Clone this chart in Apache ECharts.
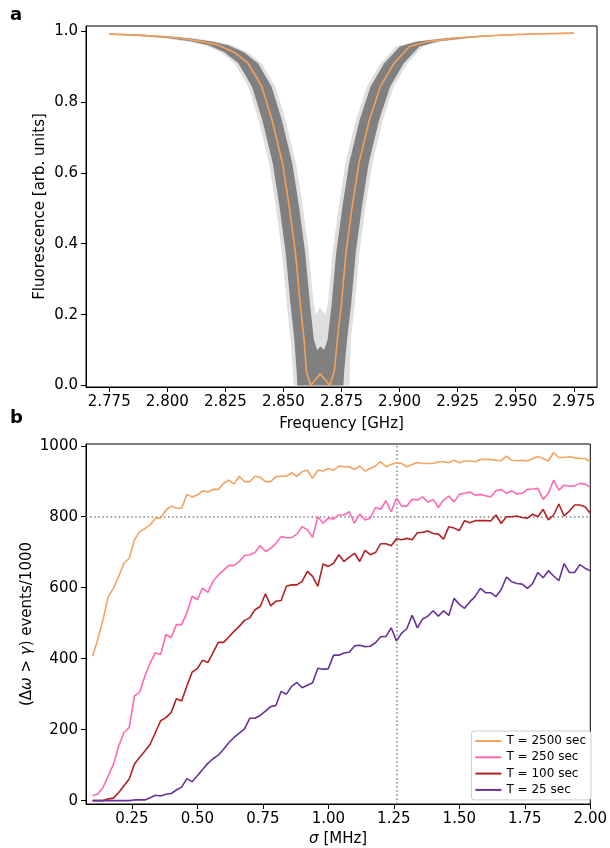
<!DOCTYPE html>
<html><head><meta charset="utf-8">
<script src="https://cdn.jsdelivr.net/npm/echarts@6/dist/echarts.min.js"></script>
<style>html,body{margin:0;padding:0;background:#fff}#c{width:610px;height:848px}</style>
</head><body><div id="c"></div>
<script>
// ---------- Panel a data ----------
const freqOrange = [2.775,2.785,2.795,2.805,2.815,2.822,2.8288,2.8348,2.8407,2.8451,2.8496,2.8525,2.8552,2.8572,2.8589,2.8599,2.8617,2.8658,2.8700,2.8720,2.8732,2.8750,2.8769,2.8796,2.8825,2.8870,2.8917,2.8976,2.9043,2.912,2.925,2.940,2.955,2.975];
const fluorOrange = [0.991,0.989,0.985,0.980,0.970,0.960,0.940,0.909,0.843,0.749,0.627,0.505,0.373,0.232,0.129,0.040,0.000,0.033,0.000,0.044,0.129,0.232,0.373,0.505,0.627,0.749,0.843,0.909,0.956,0.970,0.980,0.987,0.991,0.994];

// dense (dark) part of the bundle of simulated spectra
const bandOuterF = [2.775,2.790,2.800,2.810,2.8178,2.8246,2.8306,2.8365,2.8409,2.8454,2.8483,2.8510,2.8530,2.8547,2.8557,2.8560,2.8758,2.8762,2.8774,2.8792,2.8811,2.8838,2.8867,2.8912,2.8959,2.9018,2.9085,2.9162,2.9292,2.9442,2.9592,2.975];
const bandOuterV = [0.990,0.985,0.980,0.971,0.960,0.940,0.909,0.843,0.749,0.627,0.505,0.373,0.232,0.129,0.040,0.000,0.000,0.044,0.129,0.232,0.373,0.505,0.627,0.749,0.843,0.909,0.956,0.970,0.980,0.987,0.991,0.993];
const bandInnerF = [2.775,2.790,2.800,2.810,2.8192,2.8262,2.8330,2.8390,2.8449,2.8493,2.8538,2.8567,2.8594,2.8614,2.8631,2.8645,2.8660,2.8675,2.8690,2.8708,2.8727,2.8754,2.8783,2.8828,2.8875,2.8934,2.9001,2.9078,2.9208,2.9358,2.9508,2.975];
const bandInnerV = [0.992,0.989,0.985,0.979,0.970,0.960,0.940,0.909,0.843,0.749,0.627,0.505,0.373,0.232,0.129,0.100,0.110,0.100,0.129,0.232,0.373,0.505,0.627,0.749,0.843,0.909,0.956,0.970,0.980,0.987,0.991,0.995];

// faint outskirts of the bundle
const haloOuterF = [2.775,2.790,2.800,2.810,2.8162,2.8230,2.8290,2.8349,2.8393,2.8438,2.8467,2.8494,2.8514,2.8531,2.8541,2.8545,2.8785,2.8786,2.8790,2.8808,2.8827,2.8854,2.8883,2.8928,2.8975,2.9034,2.9101,2.9178,2.9308,2.9458,2.9608,2.975];
const haloOuterV = [0.989,0.984,0.978,0.969,0.960,0.940,0.909,0.843,0.749,0.627,0.505,0.373,0.232,0.129,0.040,0.000,0.000,0.044,0.129,0.232,0.373,0.505,0.627,0.749,0.843,0.909,0.956,0.970,0.980,0.987,0.991,0.992];
const haloInnerF = [2.775,2.790,2.800,2.810,2.8208,2.8278,2.8346,2.8406,2.8465,2.8509,2.8554,2.8583,2.8610,2.8630,2.8640,2.8655,2.8668,2.8680,2.8692,2.8711,2.8738,2.8767,2.8812,2.8859,2.8918,2.8985,2.9062,2.9192,2.9342,2.9492,2.975];
const haloInnerV = [0.994,0.990,0.986,0.981,0.970,0.960,0.940,0.909,0.843,0.749,0.627,0.505,0.373,0.232,0.200,0.220,0.210,0.200,0.232,0.373,0.505,0.627,0.749,0.843,0.909,0.956,0.970,0.980,0.987,0.991,0.996];

const topXTicks = [2.775,2.800,2.825,2.850,2.875,2.900,2.925,2.950,2.975];
const topYTicks = [0,0.2,0.4,0.6,0.8,1.0];

// ---------- Panel b data ----------
const sigma = [0.10,0.12,0.14,0.16,0.18,0.20,0.22,0.24,0.26,0.28,0.30,0.32,0.34,0.36,0.38,0.40,0.42,0.44,0.46,0.48,0.50,0.52,0.54,0.56,0.58,0.60,0.62,0.64,0.66,0.68,0.70,0.72,0.74,0.76,0.78,0.80,0.82,0.84,0.86,0.88,0.90,0.92,0.94,0.96,0.98,1.00,1.02,1.04,1.06,1.08,1.10,1.12,1.14,1.16,1.18,1.20,1.22,1.24,1.26,1.28,1.30,1.32,1.34,1.36,1.38,1.40,1.42,1.44,1.46,1.48,1.50,1.52,1.54,1.56,1.58,1.60,1.62,1.64,1.66,1.68,1.70,1.72,1.74,1.76,1.78,1.80,1.82,1.84,1.86,1.88,1.90,1.92,1.94,1.96,1.98,2.00];
const evT2500 = [407,454,510,575,599,632,669,683,735,758,767,777,796,796,819,830,824,824,863,856,861,873,870,877,877,894,903,892,914,899,899,914,911,899,899,913,914,914,924,914,927,931,908,931,929,936,931,943,941,941,933,943,929,936,943,955,941,947,952,950,941,947,953,950,950,950,955,955,952,959,952,957,957,955,961,962,961,959,958,971,959,958,959,957,964,969,964,957,981,967,967,969,966,964,964,955];
const evT250 = [14,19,37,70,103,154,192,206,295,306,351,388,417,412,468,459,496,496,529,576,566,599,587,618,636,649,663,663,674,691,693,699,719,702,711,725,744,741,741,751,772,763,742,800,782,796,794,805,805,814,782,808,791,796,826,821,845,814,852,830,830,849,847,856,841,849,826,847,858,842,863,866,870,861,863,859,856,873,877,866,873,864,866,877,878,880,849,866,903,875,889,886,887,894,892,883];
const evT100 = [0,0,0,5,7,23,42,61,103,122,140,159,192,225,234,248,287,281,323,362,372,396,389,417,446,446,461,477,491,508,515,538,547,583,549,562,564,604,608,608,618,646,632,604,667,660,669,693,674,686,697,674,705,693,699,724,724,718,738,735,739,735,755,756,760,753,751,737,772,768,761,789,783,789,789,789,788,805,781,800,800,802,798,796,807,800,821,791,805,836,802,816,833,833,828,810];
const evT25 = [0,0,0,0,0,0,0,0,2,2,2,8,15,13,18,20,30,38,62,53,70,88,105,118,128,145,163,178,190,202,232,232,240,252,265,268,308,300,322,333,318,325,332,373,370,372,410,410,416,418,436,438,434,435,445,462,463,487,450,472,485,522,487,512,520,535,520,535,522,570,553,542,560,575,598,586,586,575,595,630,617,612,610,598,612,643,628,648,633,620,668,643,643,665,655,648];
const seriesNames = ['T = 2500 sec','T = 250 sec','T = 100 sec','T = 25 sec'];
const seriesColors = ['#F4A460','#FF69B4','#B22222','#663399'];
const thresholdY = 800;
const markedSigma = 1.26;
const botXTicks = [0.25,0.50,0.75,1.00,1.25,1.50,1.75,2.00];
const botYTicks = [0,200,400,600,800,1000];

// ---------- build ----------
const FONT = 'DejaVu Sans';
const FS = 15;
const zip = (a, b) => a.map((v, i) => [v, b[i]]);

function axisBase(ticks, fmt) {
  return {
    type: 'value', scale: false,
    axisLine: {show: true, onZero: false, lineStyle: {color: '#000', width: 1}},
    axisTick: {show: true, inside: false, length: 5, customValues: ticks, lineStyle: {color: '#000', width: 1}},
    axisLabel: {show: true, color: '#000', fontFamily: FONT, fontSize: FS, margin: 8, customValues: ticks, formatter: fmt},
    splitLine: {show: false},
    nameTextStyle: {color: '#000', fontFamily: FONT, fontSize: FS}
  };
}

function polygonSeries(oF, oV, iF, iV, color, z) {
  return {
    type: 'custom', xAxisIndex: 0, yAxisIndex: 0, silent: true, z: z,
    data: [[oF[0], oV[0]]],
    renderItem: function (params, api) {
      const pts = [];
      for (let i = 0; i < oF.length; i++) pts.push(api.coord([oF[i], oV[i]]));
      for (let i = iF.length - 1; i >= 0; i--) pts.push(api.coord([iF[i], iV[i]]));
      return {type: 'polygon', shape: {points: pts}, style: {fill: color}};
    }
  };
}

const xTop = Object.assign(axisBase(topXTicks, v => v.toFixed(3)), {
  gridIndex: 0, min: 2.765, max: 2.985,
  name: 'Frequency [GHz]', nameLocation: 'middle', nameGap: 30
});
const yTop = Object.assign(axisBase(topYTicks, v => v.toFixed(1)), {
  gridIndex: 0, min: -0.004, max: 1.014,
  name: 'Fluorescence [arb. units]', nameLocation: 'middle', nameGap: 38, nameMoveOverlap: false
});
const xBot = Object.assign(axisBase(botXTicks, v => v.toFixed(2)), {
  gridIndex: 1, min: 0.075, max: 2.0,
  name: '{i|σ} [MHz]', nameLocation: 'middle', nameGap: 28
});
xBot.nameTextStyle.rich = {i: {fontStyle: 'italic', fontFamily: FONT, fontSize: FS, color: '#000'}};
const yBot = Object.assign(axisBase(botYTicks, v => String(v)), {
  gridIndex: 1, min: -9.5, max: 1005,
  name: '(Δ{i|ω} > {i|γ}) events/1000', nameLocation: 'middle', nameGap: 51, nameMoveOverlap: false
});
yBot.nameTextStyle.rich = {i: {fontStyle: 'italic', fontFamily: FONT, fontSize: FS, color: '#000'}};

const botData = [evT2500, evT250, evT100, evT25];
const botSeries = botData.map((arr, k) => {
  const s = {
    name: seriesNames[k], type: 'line', xAxisIndex: 1, yAxisIndex: 1,
    data: zip(sigma, arr), symbol: 'none', smooth: false, z: 3,
    lineStyle: {color: seriesColors[k], width: 1.6}, itemStyle: {color: seriesColors[k]}
  };
  if (k === 0) {
    s.markLine = {
      silent: true, symbol: 'none', label: {show: false}, z: 2,
      lineStyle: {color: '#808080', type: [1.5, 2.6], width: 1.5},
      data: [{yAxis: thresholdY}, {xAxis: markedSigma}]
    };
  }
  return s;
});

const option = {
  animation: false,
  backgroundColor: '#fff',
  textStyle: {fontFamily: FONT},
  grid: [
    {left: 86, right: 13, top: 26, height: 361, show: true, borderColor: '#000', borderWidth: 1, backgroundColor: 'transparent'},
    {left: 86, right: 13, top: 444, height: 361, show: true, borderColor: '#000', borderWidth: 1, backgroundColor: 'transparent'}
  ],
  xAxis: [xTop, xBot],
  yAxis: [yTop, yBot],
  legend: {
    data: seriesNames, orient: 'vertical', right: 19, top: 731,
    icon: 'rect', itemWidth: 26, itemHeight: 2, itemGap: 2.3,
    textStyle: {fontFamily: FONT, fontSize: 12, color: '#000', lineHeight: 14},
    backgroundColor: '#fff', borderColor: '#cccccc', borderWidth: 1, borderRadius: 3,
    padding: [3, 5, 3, 4], selectedMode: false
  },
  graphic: [
    {type: 'text', left: 10, top: 6, style: {text: 'a', font: 'bold 18px "DejaVu Sans"', fill: '#000'}},
    {type: 'text', left: 10, top: 409, style: {text: 'b', font: 'bold 18px "DejaVu Sans"', fill: '#000'}}
  ],
  series: [
    polygonSeries(haloOuterF, haloOuterV, haloInnerF, haloInnerV, 'rgba(128,128,128,0.25)', 1),
    polygonSeries(bandOuterF, bandOuterV, bandInnerF, bandInnerV, '#808080', 2),
    {type: 'line', xAxisIndex: 0, yAxisIndex: 0, data: zip(freqOrange, fluorOrange), symbol: 'none',
     lineStyle: {color: '#F5A05A', width: 1.6}, itemStyle: {color: '#F5A05A'}, z: 3, silent: true}
  ].concat(botSeries)
};

const chart = echarts.init(document.getElementById('c'), null, {renderer: 'canvas'});
chart.setOption(option);
</script>
</body></html>
